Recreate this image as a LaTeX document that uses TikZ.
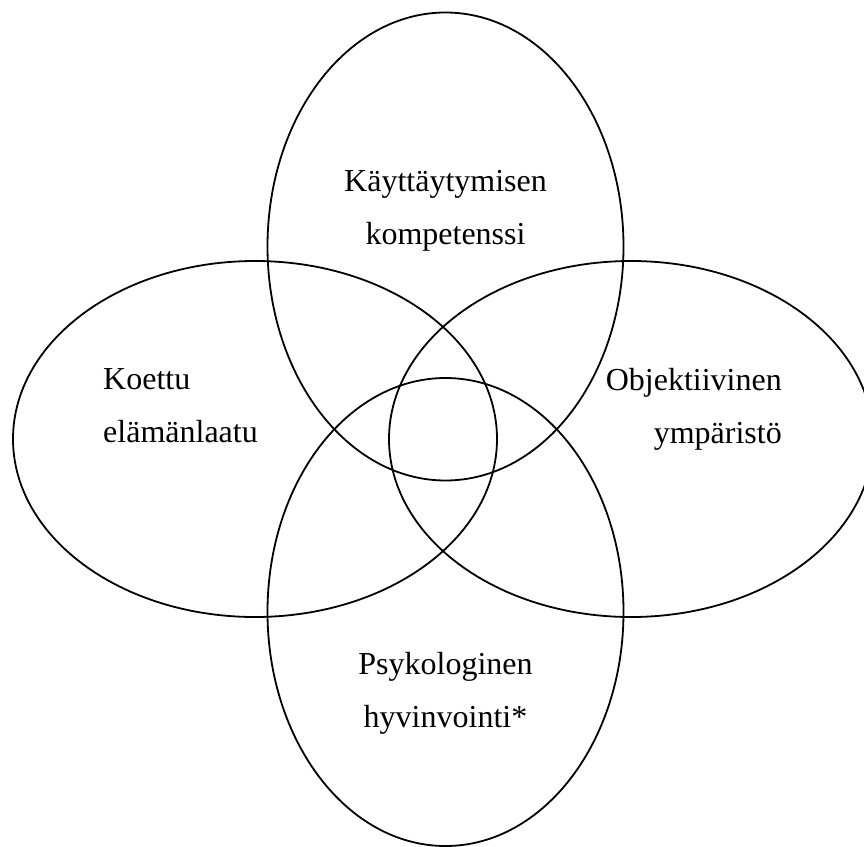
\documentclass[tikz,border=0pt]{standalone}
\usepackage{fontspec}
\setmainfont{Liberation Serif}
\usepackage{tikz}
\usetikzlibrary{shapes.geometric}

\begin{document}
\begin{tikzpicture}[
  x=1pt, y=-1pt,
  ring/.style={draw, ellipse, line width=1.8pt, inner sep=0pt, outer sep=0pt},
  tall/.style={ring, minimum width=356pt, minimum height=468pt},
  wide/.style={ring, minimum width=484pt, minimum height=356pt},
  lbl/.style={inner sep=0pt, font=\fontsize{32}{53}\selectfont},
]
  \useasboundingbox (0,0) rectangle (864,846);

  % four overlapping areas
  \node[tall] (behav) at (445.5, 246.5) {};
  \node[tall] (psych) at (445.5, 612) {};
  \node[wide] (qol) at (255, 439) {};
  \node[wide] (env) at (631, 439) {};

  \node[lbl, align=center] (behavtxt) at (445.5, 211) {Käyttäytymisen\\kompetenssi};
  \node[lbl, align=left, anchor=west] (qoltxt) at (103, 406) {Koettu\\elämänlaatu};
  \node[lbl, align=right, anchor=east] (envtxt) at (782, 409) {Objektiivinen\\ympäristö};
  \node[lbl, align=center] (psychtxt) at (445.5, 693) {Psykologinen\\hyvinvointi*};
\end{tikzpicture}
\end{document}
